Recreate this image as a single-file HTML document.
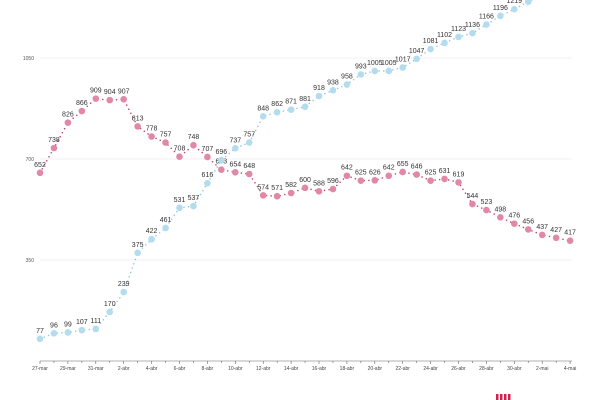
<!DOCTYPE html>
<html><head><meta charset="utf-8"><style>
html,body{margin:0;padding:0;background:#fff;width:600px;height:400px;overflow:hidden}
svg text{font-family:"Liberation Sans",sans-serif}
</style></head><body>
<svg id="c" width="600" height="400" xmlns="http://www.w3.org/2000/svg"></svg>
<script>
var s=document.getElementById('c');
var blue=[77,96,99,107,111,170,239,375,422,461,531,537,616,696,737,757,848,862,871,881,918,938,958,993,1005,1005,1017,1047,1081,1102,1123,1136,1166,1196,1219,1245,1270,1290,1310];
var pink=[652,738,826,866,909,904,907,813,778,757,708,748,707,663,654,648,574,571,582,600,588,596,642,625,626,642,655,646,625,631,619,544,523,498,476,456,437,427,417];
function X(i){return 40+i*13.95}
function Y(v){return 159-(v-700)*0.2886}
var h='';
[[1050,58],[700,159],[350,260]].forEach(function(g){
h+='<line x1="40" x2="572" y1="'+g[1]+'" y2="'+g[1]+'" stroke="#f0f0f0" stroke-width="1"/>';
h+='<text x="34" y="'+(g[1]+2)+'" font-size="5" fill="#555" text-anchor="end">'+g[0]+'</text>';
});
h+='<line x1="40" x2="572" y1="361" y2="361" stroke="#666" stroke-width="0.6"/>';
var labs=['27-mar','29-mar','31-mar','2-abr','4-abr','6-abr','8-abr','10-abr','12-abr','14-abr','16-abr','18-abr','20-abr','22-abr','24-abr','26-abr','28-abr','30-abr','2-mai','4-mai'];
for(var i=0;i<39;i++){h+='<line x1="'+X(i)+'" x2="'+X(i)+'" y1="361" y2="'+(i%2?363:364)+'" stroke="#666" stroke-width="0.6"/>';}
labs.forEach(function(l,k){h+='<text x="'+X(k*2)+'" y="370" font-size="5" fill="#444" text-anchor="middle">'+l+'</text>';});
function series(d,col,dotcol){
var p='';d.forEach(function(v,i){p+=(i?'L':'M')+X(i)+' '+Y(v)});
h+='<path d="'+p+'" fill="none" stroke="'+dotcol+'" stroke-width="1.6" stroke-linecap="round" stroke-dasharray="0 4.6"/>';
d.forEach(function(v,i){h+='<circle cx="'+X(i)+'" cy="'+Y(v)+'" r="3.3" fill="'+col+'"/>';
h+='<text x="'+X(i)+'" y="'+(Y(v)-6)+'" font-size="7" fill="#333" text-anchor="middle">'+v+'</text>';});
}
series(pink,'#e088a6','#c0436e');
series(blue,'#b3dcef','#8cc8e4');
h+='<g fill="#c8244f"><rect x="496" y="394" width="2.5" height="6"/><rect x="500" y="394" width="2.5" height="6"/><rect x="504" y="394" width="2.5" height="6"/><rect x="508" y="394" width="2.5" height="6"/></g>';
s.innerHTML=h;
</script>
</body></html>
